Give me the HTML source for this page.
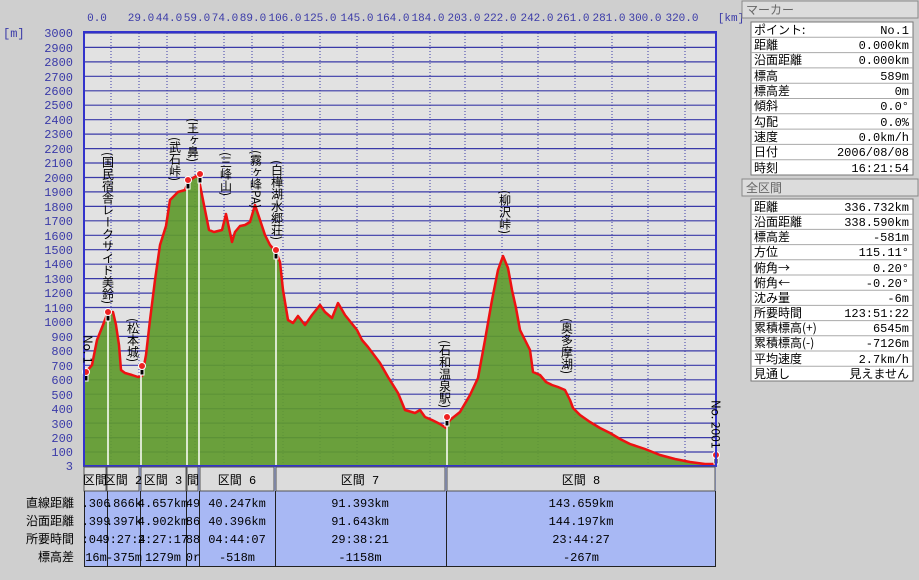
<!DOCTYPE html>
<html><head><meta charset="utf-8">
<style>
body{margin:0;width:919px;height:580px;background:#cfcfcf;font-family:"Liberation Mono","WenQuanYi Zen Hei","Noto Sans CJK JP",monospace;overflow:hidden;position:relative}
</style></head><body>
<svg width="919" height="580" style="position:absolute;left:0;top:0" font-family="'Liberation Mono','WenQuanYi Zen Hei',monospace">
<rect x="84" y="32" width="632" height="434" fill="#e2e2e2"/>
<g stroke="#3a3aa8" stroke-width="1.2">
<line x1="84" x2="716" y1="33" y2="33"/><line x1="84" x2="716" y1="47.4" y2="47.4"/><line x1="84" x2="716" y1="61.9" y2="61.9"/><line x1="84" x2="716" y1="76.3" y2="76.3"/><line x1="84" x2="716" y1="90.8" y2="90.8"/><line x1="84" x2="716" y1="105.2" y2="105.2"/><line x1="84" x2="716" y1="119.7" y2="119.7"/><line x1="84" x2="716" y1="134.1" y2="134.1"/><line x1="84" x2="716" y1="148.6" y2="148.6"/><line x1="84" x2="716" y1="163" y2="163"/><line x1="84" x2="716" y1="177.5" y2="177.5"/><line x1="84" x2="716" y1="191.9" y2="191.9"/><line x1="84" x2="716" y1="206.4" y2="206.4"/><line x1="84" x2="716" y1="220.8" y2="220.8"/><line x1="84" x2="716" y1="235.3" y2="235.3"/><line x1="84" x2="716" y1="249.7" y2="249.7"/><line x1="84" x2="716" y1="264.2" y2="264.2"/><line x1="84" x2="716" y1="278.6" y2="278.6"/><line x1="84" x2="716" y1="293.1" y2="293.1"/><line x1="84" x2="716" y1="307.5" y2="307.5"/><line x1="84" x2="716" y1="322" y2="322"/><line x1="84" x2="716" y1="336.4" y2="336.4"/><line x1="84" x2="716" y1="350.9" y2="350.9"/><line x1="84" x2="716" y1="365.3" y2="365.3"/><line x1="84" x2="716" y1="379.8" y2="379.8"/><line x1="84" x2="716" y1="394.2" y2="394.2"/><line x1="84" x2="716" y1="408.7" y2="408.7"/><line x1="84" x2="716" y1="423.1" y2="423.1"/><line x1="84" x2="716" y1="437.6" y2="437.6"/><line x1="84" x2="716" y1="452" y2="452"/>
</g>
<g stroke="#3a3aa8" stroke-width="1" stroke-dasharray="1,2">
<line x1="111" x2="111" y1="33" y2="466"/><line x1="139" x2="139" y1="33" y2="466"/><line x1="167" x2="167" y1="33" y2="466"/><line x1="195" x2="195" y1="33" y2="466"/><line x1="224" x2="224" y1="33" y2="466"/><line x1="252" x2="252" y1="33" y2="466"/><line x1="283" x2="283" y1="33" y2="466"/><line x1="320" x2="320" y1="33" y2="466"/><line x1="357" x2="357" y1="33" y2="466"/><line x1="393" x2="393" y1="33" y2="466"/><line x1="430" x2="430" y1="33" y2="466"/><line x1="465" x2="465" y1="33" y2="466"/><line x1="502" x2="502" y1="33" y2="466"/><line x1="538" x2="538" y1="33" y2="466"/><line x1="575" x2="575" y1="33" y2="466"/><line x1="612" x2="612" y1="33" y2="466"/><line x1="648" x2="648" y1="33" y2="466"/><line x1="685" x2="685" y1="33" y2="466"/>
</g>
<polygon fill="#5f9a2e" fill-opacity="0.92" points="84,466 84,378 86,372 92,365 97,340 103,325 108,312 113,312 116,325 119,345 121,370 125,373 132,375 138,377 142,376 146,355 150,320 155,280 160,245 166,226 170,200 178,192 185,190 188,182 193,178 198,175 200,185 205,210 209,230 214,232 222,230 226,214 232,242 235,232 240,226 245,225 250,222 255,205 260,220 265,235 270,245 276,252 280,262 283,290 288,320 293,323 298,316 305,325 312,315 320,305 325,312 332,318 338,303 345,315 357,330 362,340 368,347 380,363 388,377 398,393 405,410 415,413 420,410 425,417 432,420 440,424 446,428 450,420 460,412 470,395 478,378 485,340 492,300 498,270 503,256 508,268 512,290 516,308 520,330 525,340 530,350 533,372 540,375 546,382 552,385 558,387 565,390 570,400 573,408 580,415 590,422 600,428 610,433 620,439 630,444 645,449 660,455 675,459 690,462 705,464 716,464 716,466"/>
<g fill="none" stroke="#ee1111" stroke-width="2.5" stroke-linejoin="round">
<polyline points="84,378 86,372 92,365 97,340 103,325 108,312 113,312 116,325 119,345 121,370 125,373 132,375 138,377 142,376 146,355 150,320 155,280 160,245 166,226 170,200 178,192 185,190 188,182 193,178 198,175 200,185 205,210 209,230 214,232 222,230 226,214 232,242 235,232 240,226 245,225 250,222 255,205 260,220 265,235 270,245 276,252 280,262 283,290 288,320 293,323 298,316 305,325 312,315 320,305 325,312 332,318 338,303 345,315 357,330 362,340 368,347 380,363 388,377 398,393 405,410 415,413 420,410 425,417 432,420 440,424 446,428 450,420 460,412 470,395 478,378 485,340 492,300 498,270 503,256 508,268 512,290 516,308 520,330 525,340 530,350 533,372 540,375 546,382 552,385 558,387 565,390 570,400 573,408 580,415 590,422 600,428 610,433 620,439 630,444 645,449 660,455 675,459 690,462 705,464 716,464"/>
</g>
<g stroke="#fff" stroke-width="1.5">
<line x1="108" x2="108" y1="318" y2="466"/><line x1="141" x2="141" y1="372" y2="466"/><line x1="187" x2="187" y1="188" y2="466"/><line x1="199" x2="199" y1="181" y2="466"/><line x1="276" x2="276" y1="258" y2="466"/><line x1="447" x2="447" y1="424" y2="466"/>
</g>
<g stroke="#fff" stroke-width="1">
<g transform="translate(108,312)"><rect x="-2" y="0" width="4" height="9" fill="#000"/><circle cx="0" cy="0" r="3.5" fill="#e22"/></g>
<g transform="translate(142,366)"><rect x="-2" y="0" width="4" height="9" fill="#000"/><circle cx="0" cy="0" r="3.5" fill="#e22"/></g>
<g transform="translate(188,180)"><rect x="-2" y="0" width="4" height="9" fill="#000"/><circle cx="0" cy="0" r="3.5" fill="#e22"/></g>
<g transform="translate(200,174)"><rect x="-2" y="0" width="4" height="9" fill="#000"/><circle cx="0" cy="0" r="3.5" fill="#e22"/></g>
<g transform="translate(276,250)"><rect x="-2" y="0" width="4" height="9" fill="#000"/><circle cx="0" cy="0" r="3.5" fill="#e22"/></g>
<g transform="translate(447,417)"><rect x="-2" y="0" width="4" height="9" fill="#000"/><circle cx="0" cy="0" r="3.5" fill="#e22"/></g>
<g transform="translate(716,455)"><rect x="-2" y="0" width="4" height="9" fill="#000"/><circle cx="0" cy="0" r="3.5" fill="#e22"/></g>
<g transform="translate(86,372)"><rect x="-2" y="0" width="4" height="9" fill="#000"/><circle cx="0" cy="0" r="3.5" fill="#e22"/></g>
</g>
<rect x="84" y="32" width="632" height="434" fill="none" stroke="#3333cc" stroke-width="2"/>
<g fill="#3a3aa8" font-size="12" text-anchor="end">
<text x="73" y="37">3000</text><text x="73" y="52">2900</text><text x="73" y="66">2800</text><text x="73" y="81">2700</text><text x="73" y="95">2600</text><text x="73" y="109">2500</text><text x="73" y="124">2400</text><text x="73" y="138">2300</text><text x="73" y="153">2200</text><text x="73" y="167">2100</text><text x="73" y="182">2000</text><text x="73" y="196">1900</text><text x="73" y="211">1800</text><text x="73" y="225">1700</text><text x="73" y="240">1600</text><text x="73" y="254">1500</text><text x="73" y="268">1400</text><text x="73" y="283">1300</text><text x="73" y="297">1200</text><text x="73" y="312">1100</text><text x="73" y="326">1000</text><text x="73" y="341">900</text><text x="73" y="355">800</text><text x="73" y="370">700</text><text x="73" y="384">600</text><text x="73" y="399">500</text><text x="73" y="413">400</text><text x="73" y="428">300</text><text x="73" y="442">200</text><text x="73" y="456">100</text><text x="73" y="470">3</text>
</g>
<text x="3" y="37" fill="#3a3aa8" font-size="12">[m]</text>
<g fill="#3a3aa8" font-size="11" text-anchor="middle">
<text x="97" y="21">0.0</text><text x="141" y="21">29.0</text><text x="169" y="21">44.0</text><text x="197" y="21">59.0</text><text x="225" y="21">74.0</text><text x="253" y="21">89.0</text><text x="285" y="21">106.0</text><text x="320" y="21">125.0</text><text x="357" y="21">145.0</text><text x="393" y="21">164.0</text><text x="428" y="21">184.0</text><text x="464" y="21">203.0</text><text x="500" y="21">222.0</text><text x="537" y="21">242.0</text><text x="573" y="21">261.0</text><text x="609" y="21">281.0</text><text x="645" y="21">300.0</text><text x="682" y="21">320.0</text><text x="731" y="21">[km]</text>
</g>
<g font-size="12" fill="#000" style="writing-mode:vertical-rl" font-family="'WenQuanYi Zen Hei','Noto Sans CJK JP',sans-serif">
<text x="108" y="152">(国民宿舎レークサイド美鈴)</text>
<text x="133" y="318">(松本城)</text>
<text x="175" y="137">(武石峠)</text>
<text x="193" y="118">(王ヶ鼻)</text>
<text x="226" y="152">(三峰山)</text>
<text x="256" y="150">(霧ヶ峰PA)</text>
<text x="277" y="160">(白樺湖水郷荘)</text>
<text x="445" y="340">(石和温泉駅)</text>
<text x="505" y="190">(柳沢峠)</text>
<text x="567" y="318">(奥多摩湖)</text>
<text x="88" y="335">No. 1</text>
<text x="716" y="400">No. 2001</text>
</g>
<rect x="84" y="467" width="632" height="100" fill="#a8b8f4"/>
<g fill="#dcdcdc" stroke="#555">
<rect x="84" y="467" width="22" height="24"/><rect x="107" y="467" width="32" height="24"/><rect x="141" y="467" width="45" height="24"/><rect x="187" y="467" width="11" height="24"/><rect x="200" y="467" width="74" height="24"/><rect x="276" y="467" width="169" height="24"/><rect x="447" y="467" width="268" height="24"/>
</g>
<g stroke="#222" stroke-width="1"><line x1="84.5" x2="84.5" y1="491" y2="567"/><line x1="107.5" x2="107.5" y1="491" y2="567"/><line x1="140.5" x2="140.5" y1="491" y2="567"/><line x1="186.5" x2="186.5" y1="491" y2="567"/><line x1="199.5" x2="199.5" y1="491" y2="567"/><line x1="275.5" x2="275.5" y1="491" y2="567"/><line x1="446.5" x2="446.5" y1="491" y2="567"/><line x1="715.5" x2="715.5" y1="491" y2="567"/><line x1="84" x2="716" y1="566.5" y2="566.5"/></g>
<g font-size="12" fill="#000" text-anchor="middle">
<text x="95" y="484">区間</text><text x="123" y="484">区間 2</text><text x="163" y="484">区間 3</text><text x="193" y="484">間</text><text x="237" y="484">区間 6</text><text x="360" y="484">区間 7</text><text x="581" y="484">区間 8</text>
</g>
<g font-size="12" fill="#000" text-anchor="end" font-family="'WenQuanYi Zen Hei','Noto Sans CJK JP',sans-serif">
<text x="74" y="507">直線距離</text><text x="74" y="525">沿面距離</text><text x="74" y="543">所要時間</text><text x="74" y="561">標高差</text>
</g>
<g font-size="12" fill="#000" text-anchor="middle">
<text x="96" y="507">.306</text><text x="124" y="507">.866k</text><text x="163" y="507">4.657km</text><text x="193" y="507">49</text><text x="237" y="507">40.247km</text><text x="360" y="507">91.393km</text><text x="581" y="507">143.659km</text>
<text x="96" y="525">.399</text><text x="124" y="525">.397k</text><text x="163" y="525">4.902km</text><text x="193" y="525">86</text><text x="237" y="525">40.396km</text><text x="360" y="525">91.643km</text><text x="581" y="525">144.197km</text>
<text x="96" y="543">:04:</text><text x="124" y="543">9:27:4</text><text x="163" y="543">2:27:17</text><text x="193" y="543">88</text><text x="237" y="543">04:44:07</text><text x="360" y="543">29:38:21</text><text x="581" y="543">23:44:27</text>
<text x="96" y="561">16m</text><text x="124" y="561">-375m</text><text x="163" y="561">1279m</text><text x="193" y="561">0r</text><text x="237" y="561">-518m</text><text x="360" y="561">-1158m</text><text x="581" y="561">-267m</text>
</g>
<rect x="742" y="1" width="176" height="17" fill="#dcdcdc" stroke="#888"/>
<text x="746" y="14" font-size="12" fill="#666" font-family="'WenQuanYi Zen Hei',sans-serif">マーカー</text>
<rect x="751" y="22" width="162" height="153" fill="#fff" stroke="#777"/>
<rect x="742" y="179" width="176" height="17" fill="#dcdcdc" stroke="#888"/>
<text x="746" y="192" font-size="12" fill="#666" font-family="'WenQuanYi Zen Hei',sans-serif">全区間</text>
<rect x="751" y="199" width="162" height="182" fill="#fff" stroke="#777"/>
<g stroke="#aaa"><line x1="751" x2="913" y1="37.3" y2="37.3"/><line x1="751" x2="913" y1="52.6" y2="52.6"/><line x1="751" x2="913" y1="67.9" y2="67.9"/><line x1="751" x2="913" y1="83.2" y2="83.2"/><line x1="751" x2="913" y1="98.5" y2="98.5"/><line x1="751" x2="913" y1="113.8" y2="113.8"/><line x1="751" x2="913" y1="129.1" y2="129.1"/><line x1="751" x2="913" y1="144.4" y2="144.4"/><line x1="751" x2="913" y1="159.7" y2="159.7"/>
<line x1="751" x2="913" y1="214.2" y2="214.2"/><line x1="751" x2="913" y1="229.4" y2="229.4"/><line x1="751" x2="913" y1="244.6" y2="244.6"/><line x1="751" x2="913" y1="259.8" y2="259.8"/><line x1="751" x2="913" y1="275" y2="275"/><line x1="751" x2="913" y1="290.2" y2="290.2"/><line x1="751" x2="913" y1="305.4" y2="305.4"/><line x1="751" x2="913" y1="320.6" y2="320.6"/><line x1="751" x2="913" y1="335.8" y2="335.8"/><line x1="751" x2="913" y1="351" y2="351"/><line x1="751" x2="913" y1="366.2" y2="366.2"/></g>
<g font-size="12" fill="#000" font-family="'WenQuanYi Zen Hei','Noto Sans CJK JP',sans-serif">
<text x="754" y="34">ポイント:</text><text x="754" y="49">距離</text><text x="754" y="64">沿面距離</text><text x="754" y="80">標高</text><text x="754" y="95">標高差</text><text x="754" y="110">傾斜</text><text x="754" y="126">勾配</text><text x="754" y="141">速度</text><text x="754" y="156">日付</text><text x="754" y="172">時刻</text>
<text x="754" y="211">距離</text><text x="754" y="226">沿面距離</text><text x="754" y="241">標高差</text><text x="754" y="256">方位</text><text x="754" y="272">俯角→</text><text x="754" y="287">俯角←</text><text x="754" y="302">沈み量</text><text x="754" y="317">所要時間</text><text x="754" y="332">累積標高(+)</text><text x="754" y="347">累積標高(-)</text><text x="754" y="363">平均速度</text><text x="754" y="378">見通し</text>
</g>
<g font-size="12" fill="#000" text-anchor="end">
<text x="909" y="34">No.1</text><text x="909" y="49">0.000km</text><text x="909" y="64">0.000km</text><text x="909" y="80">589m</text><text x="909" y="95">0m</text><text x="909" y="110">0.0°</text><text x="909" y="126">0.0%</text><text x="909" y="141">0.0km/h</text><text x="909" y="156">2006/08/08</text><text x="909" y="172">16:21:54</text>
<text x="909" y="211">336.732km</text><text x="909" y="226">338.590km</text><text x="909" y="241">-581m</text><text x="909" y="256">115.11°</text><text x="909" y="272">0.20°</text><text x="909" y="287">-0.20°</text><text x="909" y="302">-6m</text><text x="909" y="317">123:51:22</text><text x="909" y="332">6545m</text><text x="909" y="347">-7126m</text><text x="909" y="363">2.7km/h</text><text x="909" y="378" font-family="'WenQuanYi Zen Hei',sans-serif">見えません</text>
</g>
</svg>
</body></html>
